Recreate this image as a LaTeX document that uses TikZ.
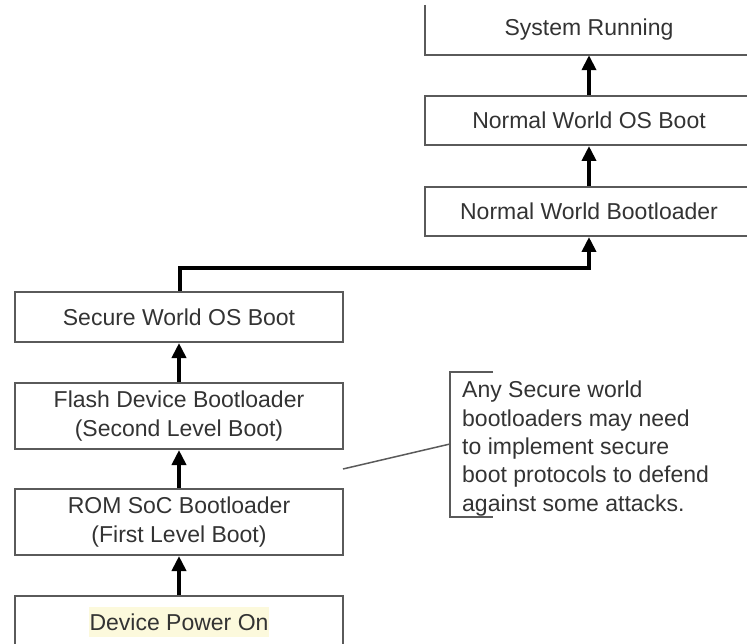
\documentclass[tikz,border=0pt]{standalone}
\usepackage{fontspec}
\setmainfont{Liberation Sans}
\usetikzlibrary{arrows.meta}
\definecolor{txt}{HTML}{333333}
\definecolor{boxline}{HTML}{5A5A5A}
\definecolor{hl}{HTML}{FCF9DC}
\tikzset{
  stage/.style={draw=boxline, line width=2pt, rectangle, minimum width=328pt, align=center, text=txt, inner sep=0pt},
  openstage/.style={rectangle, minimum width=328pt, align=center, text=txt, inner sep=0pt},
  flow/.style={line width=4pt, -{Triangle[width=14pt,length=15pt]}},
  link/.style={line width=4pt},
  thin/.style={draw=txt, line width=1.5pt},
}
\begin{document}
\begin{tikzpicture}[x=1pt,y=-1pt, font=\fontsize{23}{28.3}\selectfont]
\useasboundingbox (0,0) rectangle (747,644);
\clip (0,0) rectangle (747,644);
% right column
\node[openstage, minimum height=50pt] (sr) at (589,30) {System Running};
\draw[draw=boxline, line width=2pt] (sr.north west) -- (sr.south west) -- (sr.south east);
\node[stage, minimum height=49pt] (nwos) at (589,120.5) {Normal World OS Boot};
\node[stage, minimum height=49pt] (nwb) at (589,211.5) {Normal World Bootloader};
% left column
\node[stage, minimum height=50pt] (sw) at (179,317) {Secure World OS Boot};
\node[stage, minimum height=66pt] (fl) at (179,416) {Flash Device Bootloader\\(Second Level Boot)};
\node[stage, minimum height=66pt] (rom) at (179,522) {ROM SoC Bootloader\\(First Level Boot)};
\node[stage, minimum height=52pt] (dpo) at (179,622) {};
\node[fill=hl, text=txt, inner xsep=1pt, inner ysep=0pt, minimum height=30pt] (dpot) at (dpo.center) {Device Power On};
% arrows
\draw[flow] (dpo.north) -- (rom.south);
\draw[flow] (rom.north) -- (fl.south);
\draw[flow] (fl.north) -- (sw.south);
\coordinate (bend) at (180,268);
\draw[flow] ([xshift=1pt]sw.north) -- (bend) -| (nwb.south);
\draw[flow] (nwb.north) -- (nwos.south);
\draw[flow] (nwos.north) -- (sr.south);
% callout
\node[text=txt, align=left, anchor=north west, inner sep=0pt] (note) at (462,381)
  {Any Secure world\\bootloaders may need\\to implement secure\\boot protocols to defend\\against some attacks.};
\coordinate (bt) at (493,372);
\coordinate (btl) at (450,372);
\coordinate (bbl) at (450,517);
\coordinate (bb) at (493,517);
\coordinate (lead) at (450,444);
\coordinate (leadend) at (343,469);
\draw[thin, draw=boxline] (bt) -- (btl) -- (bbl) -- (bb);
\draw[thin, draw=boxline] (lead) -- (leadend);
\end{tikzpicture}
\end{document}
